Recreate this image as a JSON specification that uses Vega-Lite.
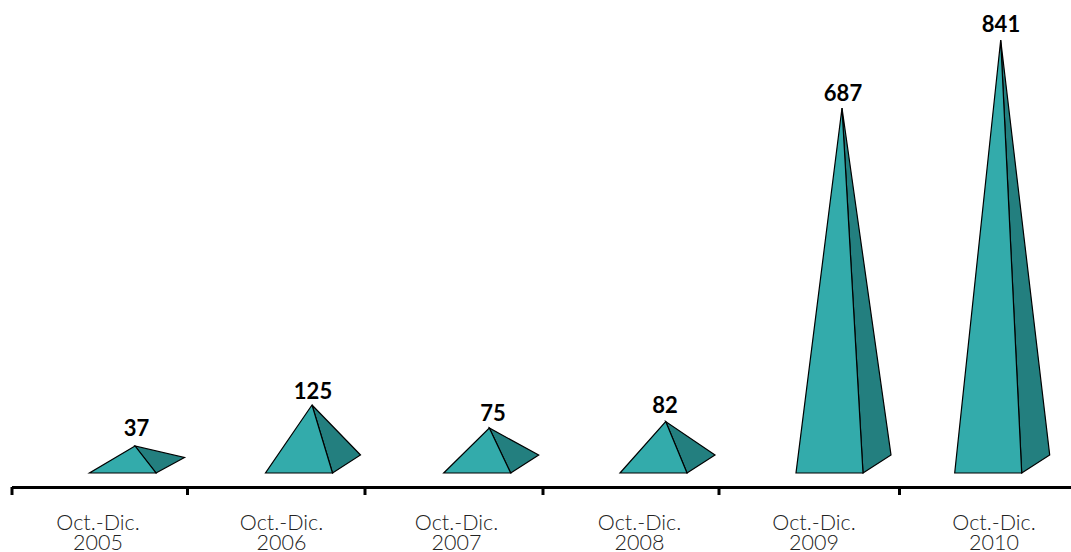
{"$schema":"https://vega.github.io/schema/vega-lite/v6.json","width":1071,"height":552,"autosize":{"type":"none"},"padding":0,"background":"white","config":{"view":{"stroke":null}},
"datasets":{
"caras":[
{"p":"2005","cara":"lado","v":1,"x":156,"h":0},{"p":"2005","cara":"lado","v":2,"x":184.5,"h":15.5},{"p":"2005","cara":"lado","v":3,"x":135,"h":27},
{"p":"2006","cara":"lado","v":1,"x":332.5,"h":0},{"p":"2006","cara":"lado","v":2,"x":360.5,"h":18},{"p":"2006","cara":"lado","v":3,"x":312,"h":68},
{"p":"2007","cara":"lado","v":1,"x":510.7,"h":0},{"p":"2007","cara":"lado","v":2,"x":538.7,"h":18},{"p":"2007","cara":"lado","v":3,"x":489.3,"h":45},
{"p":"2008","cara":"lado","v":1,"x":687,"h":0},{"p":"2008","cara":"lado","v":2,"x":715,"h":18},{"p":"2008","cara":"lado","v":3,"x":665.7,"h":51.5},
{"p":"2009","cara":"lado","v":1,"x":863,"h":0},{"p":"2009","cara":"lado","v":2,"x":891,"h":18},{"p":"2009","cara":"lado","v":3,"x":842,"h":365},
{"p":"2010","cara":"lado","v":1,"x":1021.7,"h":0},{"p":"2010","cara":"lado","v":2,"x":1049.7,"h":18},{"p":"2010","cara":"lado","v":3,"x":1000.7,"h":433},
{"p":"2005","cara":"frente","v":1,"x":89.5,"h":0},{"p":"2005","cara":"frente","v":2,"x":156,"h":0},{"p":"2005","cara":"frente","v":3,"x":135,"h":27},
{"p":"2006","cara":"frente","v":1,"x":265.5,"h":0},{"p":"2006","cara":"frente","v":2,"x":332.5,"h":0},{"p":"2006","cara":"frente","v":3,"x":312,"h":68},
{"p":"2007","cara":"frente","v":1,"x":443.7,"h":0},{"p":"2007","cara":"frente","v":2,"x":510.7,"h":0},{"p":"2007","cara":"frente","v":3,"x":489.3,"h":45},
{"p":"2008","cara":"frente","v":1,"x":620,"h":0},{"p":"2008","cara":"frente","v":2,"x":687,"h":0},{"p":"2008","cara":"frente","v":3,"x":665.7,"h":51.5},
{"p":"2009","cara":"frente","v":1,"x":796,"h":0},{"p":"2009","cara":"frente","v":2,"x":863,"h":0},{"p":"2009","cara":"frente","v":3,"x":842,"h":365},
{"p":"2010","cara":"frente","v":1,"x":954.7,"h":0},{"p":"2010","cara":"frente","v":2,"x":1021.7,"h":0},{"p":"2010","cara":"frente","v":3,"x":1000.7,"h":433}
],
"valores":[
{"p":"2005","valor":37,"x":136.5,"h":44},{"p":"2006","valor":125,"x":313,"h":81},{"p":"2007","valor":75,"x":493,"h":59},{"p":"2008","valor":82,"x":665,"h":67},{"p":"2009","valor":687,"x":843,"h":379},{"p":"2010","valor":841,"x":1001,"h":448}
],
"periodos":[
{"periodo":"Oct.-Dic.\n2005","x":98,"h":-51},{"periodo":"Oct.-Dic.\n2006","x":281.5,"h":-51},{"periodo":"Oct.-Dic.\n2007","x":456.5,"h":-51},{"periodo":"Oct.-Dic.\n2008","x":639.5,"h":-51},{"periodo":"Oct.-Dic.\n2009","x":814,"h":-51},{"periodo":"Oct.-Dic.\n2010","x":994,"h":-51}
],
"marcas":[{"x":12,"h":-14,"h2":-22},{"x":187.5,"h":-14,"h2":-22},{"x":365,"h":-14,"h2":-22},{"x":543,"h":-14,"h2":-22},{"x":719,"h":-14,"h2":-22},{"x":899.5,"h":-14,"h2":-22}]
},
"encoding":{
"x":{"field":"x","type":"quantitative","scale":{"domain":[0,1071],"nice":false,"zero":false},"axis":null},
"y":{"field":"h","type":"quantitative","scale":{"domain":[-79,473],"nice":false,"zero":false},"axis":null}
},
"layer":[
{"data":{"name":"caras"},"transform":[{"filter":"datum.cara==='lado'"}],"mark":{"type":"line","interpolate":"linear-closed","fill":"#237f7f","stroke":"#000000","strokeWidth":1.2,"strokeJoin":"miter"},"encoding":{"detail":{"field":"p"},"order":{"field":"v"}}},
{"data":{"name":"caras"},"transform":[{"filter":"datum.cara==='frente'"}],"mark":{"type":"line","interpolate":"linear-closed","fill":"#33abab","stroke":"#000000","strokeWidth":1.2,"strokeJoin":"miter"},"encoding":{"detail":{"field":"p"},"order":{"field":"v"}}},
{"data":{"name":"valores"},"mark":{"type":"text","font":"Lato","fontWeight":"bold","fontSize":22,"color":"#000000","baseline":"middle","align":"center"},"encoding":{"text":{"field":"valor"}}},
{"data":{"name":"periodos"},"mark":{"type":"text","font":"Lato","fontWeight":300,"fontSize":21.5,"color":"#222222","baseline":"middle","align":"center","lineBreak":"\n","lineHeight":20},"encoding":{"text":{"field":"periodo"}}},
{"data":{"values":[{"x":12,"x2":1071,"h":-14.5}]},"mark":{"type":"rule","color":"#000000","strokeWidth":3},"encoding":{"x2":{"field":"x2"}}},
{"data":{"name":"marcas"},"mark":{"type":"rule","color":"#000000","strokeWidth":3},"encoding":{"y2":{"field":"h2"}}}
]}
